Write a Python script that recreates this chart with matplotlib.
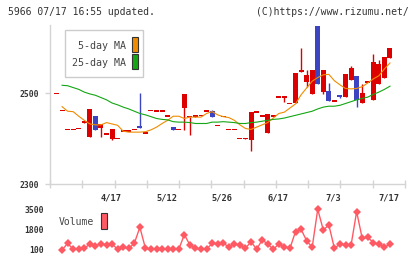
import numpy as np
import matplotlib
matplotlib.use("Agg")
from matplotlib import pyplot as plt
from matplotlib.patches import Rectangle
from matplotlib.transforms import blended_transform_factory

# daily candles (open, high, low, close), oldest first
opens  = [2499,2462,2420,2420,2422,2434,2404,2449,2424,2410,2399,2400,2417,2417,2420,
          2427,2412,2462,2460,2460,2449,2425,2420,2468,2448,2447,2451,2460,2460,2429,
          2448,2420,2420,2400,2398,2397,2458,2449,2413,2449,2491,2491,2477,2477,2546,
          2524,2498,2648,2503,2504,2482,2496,2492,2529,2537,2477,2524,2485,2520,2534,2578]
highs  = [2499,2462,2420,2420,2422,2438,2465,2449,2432,2410,2421,2400,2417,2417,2420,
          2499,2412,2462,2460,2460,2449,2425,2420,2498,2448,2452,2451,2460,2463,2429,
          2448,2420,2420,2400,2402,2458,2458,2449,2454,2449,2491,2491,2477,2544,2599,
          2551,2551,2648,2551,2522,2482,2496,2542,2559,2537,2520,2524,2586,2573,2579,2599]
lows   = [2499,2462,2420,2420,2422,2434,2404,2419,2404,2410,2397,2400,2417,2417,2420,
          2423,2412,2462,2460,2460,2449,2419,2420,2419,2408,2447,2451,2460,2448,2429,
          2448,2420,2420,2400,2398,2373,2458,2449,2413,2449,2491,2481,2477,2477,2546,
          2514,2498,2520,2498,2483,2482,2489,2492,2529,2470,2477,2524,2485,2520,2534,2578]
closes = [2499,2462,2420,2420,2422,2438,2465,2419,2432,2410,2421,2400,2417,2417,2420,
          2423,2412,2462,2460,2460,2449,2419,2420,2498,2448,2452,2451,2460,2448,2429,
          2448,2420,2420,2400,2402,2458,2458,2449,2454,2449,2491,2491,2477,2544,2551,
          2540,2551,2520,2551,2483,2482,2491,2542,2556,2485,2500,2524,2568,2564,2579,2599]

ma5  = [np.nan,2470,2460,2459,2449,2440,2432,2430,2430,2435,2432,2429,2416,2414,2414,
        2414,2415,2419,2425,2433,2440,2449,2449,2444,2447,2447,2447,2455,2459,2452,
        2448,2446,2440,2430,2422,2420,2425,2430,2435,2445,2455,2458,2467,2476,2496,
        2511,2526,2534,2540,2541,2527,2518,2510,2509,2510,2514,2522,2531,2538,2553,2566]
ma25 = [np.nan,2517,2516,2512,2508,2502,2498,2495,2490,2485,2478,2474,2469,2465,2460,
        2455,2452,2448,2444,2442,2441,2437,2436,2436,2435,2433,2433,2433,2436,2436,
        2437,2436,2435,2433,2433,2435,2436,2438,2440,2442,2443,2445,2448,2451,2454,
        2457,2460,2465,2469,2471,2471,2473,2477,2481,2485,2488,2491,2497,2502,2508,2515]

volume = [np.nan,40,610,100,100,185,550,410,550,500,550,100,270,185,610,
          1970,185,100,100,100,100,100,100,1350,465,185,100,100,610,525,
          610,320,525,465,185,750,100,890,550,100,550,320,185,1600,1800,
          830,270,3500,1740,2165,185,550,465,465,3300,1030,1120,660,550,270,550]

date_labels = ['4/17', '5/12', '5/26', '6/17', '7/3', '7/17']
date_pos = [10, 20, 30, 40, 50, 60]

RED = '#dc0000'
BLUE = '#3c44c2'
ORANGE = '#f08c00'
GREEN = '#14a614'
VOLC = '#ff5a64'
GRID = '#d4d4d4'
TXT = '#333333'
MONO = 'DejaVu Sans Mono'

W, H = 420, 259
fig = plt.figure(figsize=(W / 100, H / 100), dpi=100)

def box(x0, y0, x1, y1):
    return [x0 / W, 1 - y1 / H, (x1 - x0) / W, (y1 - y0) / H]

ax = fig.add_axes(box(50, 25, 405, 184))
vax = fig.add_axes(box(50, 205, 405, 255))

n = len(closes)
idx = np.arange(n)
xmin, xmax = -1.17, 62.7

# candles
for i in idx:
    o, h, l, c = opens[i], highs[i], lows[i], closes[i]
    col = RED if c >= o else BLUE
    ax.vlines(i, l, h, color=col, linewidth=1.0)
    bot = min(o, c)
    hgt = max(abs(c - o), 3.5)
    ax.bar(i, hgt, bottom=bot - (hgt - abs(c - o)) / 2, width=0.9, color=col, linewidth=0)

ax.plot(idx, ma5, color=ORANGE, linewidth=0.8)
ax.plot(idx, ma25, color=GREEN, linewidth=0.8)

ax.set_xlim(xmin, xmax)
ax.set_ylim(2300, 2649.5)
for s in ['top', 'right']:
    ax.spines[s].set_visible(False)
for s in ['left', 'bottom']:
    ax.spines[s].set_color(GRID)
    ax.spines[s].set_linewidth(1.0)
ax.set_yticks([2300, 2500])
ax.set_yticklabels(['2300', '2500'], fontfamily=MONO, fontsize=5.8, color=TXT, fontweight='bold')
ax.tick_params(axis='y', length=3.6, width=1.0, color=GRID, pad=4)
ax.set_xticks(np.linspace(xmin, xmax, 12))
ax.set_xticklabels([])
ax.tick_params(axis='x', direction='inout', length=5.8, width=1.0, color=GRID)

tr = blended_transform_factory(ax.transData, ax.transAxes)
for lab, p in zip(date_labels, date_pos):
    ax.text(p - 0.15, -0.086, lab, transform=tr, ha='center', va='center',
            fontfamily=MONO, fontsize=6.2, color=TXT, fontweight='bold')

# volume panel
vax.plot(idx, volume, color=VOLC, linewidth=1.0, marker='D', markersize=4.0,
         markeredgewidth=0)
vax.set_xlim(xmin, xmax)
vax.set_ylim(-384.5, 3865.5)
for s in vax.spines.values():
    s.set_visible(False)
vax.set_xticks([])
vax.set_yticks([100, 1800, 3500])
vax.set_yticklabels(['100', '1800', '3500'], fontfamily=MONO, fontsize=5.8, color=TXT,
                    fontweight='bold')
vax.tick_params(axis='y', length=0, pad=4.3)

# header
fig.text(8 / W, 1 - 12 / H, '5966 07/17 16:55 updated.', fontfamily=MONO, fontsize=7.0,
         color=TXT, ha='left', va='center')
fig.text(409 / W, 1 - 12 / H, '(C)https://www.rizumu.net/', fontfamily=MONO, fontsize=7.0,
         color=TXT, ha='right', va='center')

# legends
def prect(x0, y0, x1, y1, **kw):
    return Rectangle((x0 / W, 1 - y1 / H), (x1 - x0) / W, (y1 - y0) / H,
                     transform=fig.transFigure, **kw)

fig.patches.append(prect(65, 30, 143, 77, facecolor='white', edgecolor='#cccccc', linewidth=1.0))
fig.text(126 / W, 1 - 46 / H, '5-day MA', fontfamily=MONO, fontsize=7.2, color='#444444',
         ha='right', va='center')
fig.text(126 / W, 1 - 63 / H, '25-day MA', fontfamily=MONO, fontsize=7.2, color='#444444',
         ha='right', va='center')
fig.patches.append(prect(132, 37, 138, 52, facecolor=ORANGE, edgecolor='#333333', linewidth=0.8))
fig.patches.append(prect(132, 54, 138, 69, facecolor=GREEN, edgecolor='#333333', linewidth=0.8))

fig.text(59 / W, 1 - 222 / H, 'Volume', fontfamily=MONO, fontsize=7.0, color='#444444',
         ha='left', va='center')
fig.patches.append(prect(101, 213, 107.5, 229, facecolor=VOLC, edgecolor='#333333', linewidth=0.8))

fig.savefig('out.png', dpi=100)
